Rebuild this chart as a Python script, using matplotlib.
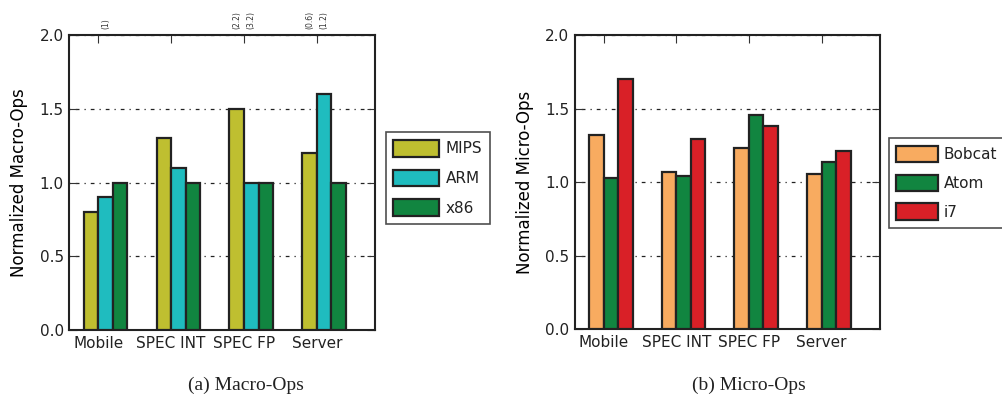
import matplotlib.pyplot as plt
import numpy as np

# data
categories = ["Mobile", "SPEC INT", "SPEC FP", "Server"]

macro_series = ["MIPS", "ARM", "x86"]
macro_mips = [0.8, 1.3, 1.5, 1.2]
macro_arm = [0.9, 1.1, 1.0, 1.6]
macro_x86 = [1.0, 1.0, 1.0, 1.0]
macro_colors = ["#bfbf30", "#1fbcbf", "#118540"]

# clipped-value notes shown above the plot: (category index, series index, text)
macro_notes = [(0, 1, "(1)"), (2, 0, "(2.2)"), (2, 1, "(3.2)"),
               (3, 0, "(0.6)"), (3, 1, "(1.2)")]

micro_series = ["Bobcat", "Atom", "i7"]
micro_bobcat = [1.32, 1.07, 1.23, 1.055]
micro_atom = [1.03, 1.045, 1.455, 1.135]
micro_i7 = [1.70, 1.295, 1.385, 1.215]
micro_colors = ["#f8ab60", "#118540", "#d92027"]

plt.rcParams['font.family'] = ['DejaVu Sans']
plt.rcParams['text.color'] = '#222222'
plt.rcParams['xtick.labelcolor'] = '#222222'
plt.rcParams['ytick.labelcolor'] = '#222222'

fig = plt.figure(figsize=(10.03, 3.99), dpi=100)
ax1 = fig.add_axes([0.069, 0.173, 0.305, 0.739])
ax2 = fig.add_axes([0.573, 0.175, 0.304, 0.737])

width = 0.2
x = np.arange(len(categories))


def draw(ax, values, names, colors, ylabel):
    for i, (vals, name, col) in enumerate(zip(values, names, colors)):
        ax.bar(x + (i - 1) * width, vals, width, align='edge', color=col,
               edgecolor='#222222', linewidth=1.6, label=name, zorder=3)
    ax.set_xlim(-0.4, 3.8)
    ax.set_ylim(0, 2.0)
    ax.set_xticks(x)
    ax.set_xticklabels(categories, fontsize=11)
    ax.set_yticks([0.0, 0.5, 1.0, 1.5, 2.0])
    ax.set_yticklabels(["0.0", "0.5", "1.0", "1.5", "2.0"], fontsize=11)
    ax.tick_params(direction='in', top=True, right=True, length=6,
                   color='#333333', pad=4)
    ax.yaxis.grid(True, linestyle=(0, (1, 4, 3, 4)), color='#222222',
                  linewidth=0.9, zorder=0)
    for s in ax.spines.values():
        s.set_linewidth(1.5)
        s.set_color('#222222')
    ax.set_ylabel(ylabel, fontsize=12, labelpad=8)


draw(ax1, [macro_mips, macro_arm, macro_x86], macro_series, macro_colors,
     "Normalized Macro-Ops")
draw(ax2, [micro_bobcat, micro_atom, micro_i7], micro_series, micro_colors,
     "Normalized Micro-Ops")

for ci, si, txt in macro_notes:
    ax1.text(ci + (si - 1) * width + width / 2, 2.04, txt, rotation=90,
             fontsize=5.5, ha='center', va='bottom', color='#333333')

leg1 = ax1.legend(loc='upper left', bbox_to_anchor=(1.035, 0.67),
                  fontsize=11, fancybox=False, edgecolor='#222222',
                  handlelength=3.0, handleheight=1.3, borderpad=0.5,
                  labelspacing=0.85, handletextpad=0.4, borderaxespad=0)
leg1.get_frame().set_linewidth(1.2)
leg2 = ax2.legend(loc='upper left', bbox_to_anchor=(1.03, 0.65),
                  fontsize=11, fancybox=False, edgecolor='#222222',
                  handlelength=2.7, handleheight=1.3, borderpad=0.5,
                  labelspacing=0.8, handletextpad=0.4, borderaxespad=0)
leg2.get_frame().set_linewidth(1.2)

fig.text(0.245, 0.035, "(a) Macro-Ops", ha='center', va='center',
         fontsize=14, family='Liberation Serif')
fig.text(0.747, 0.035, "(b) Micro-Ops", ha='center', va='center',
         fontsize=14, family='Liberation Serif')

fig.savefig("out.png", dpi=100)
